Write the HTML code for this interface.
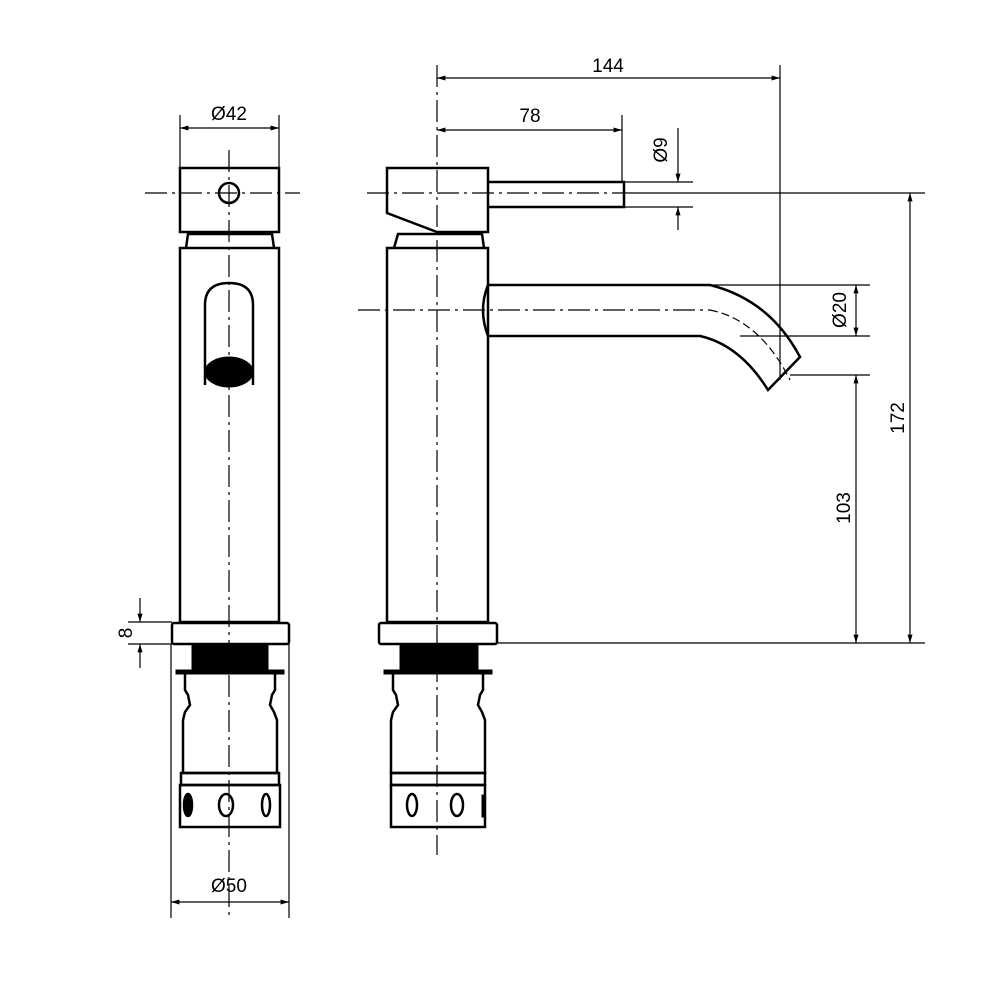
<!DOCTYPE html>
<html><head><style>html,body{margin:0;padding:0;background:#fff}svg{display:block}</style></head>
<body>
<svg width="1000" height="1000" viewBox="0 0 1000 1000" xmlns="http://www.w3.org/2000/svg" font-family="Liberation Sans, sans-serif">
<defs>
<marker id="a" viewBox="0 0 10 10" refX="10" refY="5" markerWidth="7" markerHeight="7" orient="auto-start-reverse"><path d="M0,2 L10,5 L0,8 z" fill="#000"/></marker>
</defs>
<g stroke="#000" fill="none">
<!-- center lines -->
<g stroke-width="1.2" stroke-dasharray="22,5,3,5">
<line x1="229" y1="150" x2="229" y2="920"/>
<line x1="437" y1="65" x2="437" y2="855"/>
<line x1="145" y1="193" x2="300" y2="193"/>
<line x1="367" y1="193" x2="625" y2="193"/>
<line x1="358" y1="310" x2="710" y2="310"/>
</g>
<path d="M710,310 Q760,320 790,380" stroke-width="1.2" stroke-dasharray="8,4"/>
<!-- dimension / extension lines -->
<g stroke-width="1.2">
<line x1="180" y1="115" x2="180" y2="168"/><line x1="279" y1="115" x2="279" y2="168"/>
<line x1="180" y1="128" x2="279" y2="128" marker-start="url(#a)" marker-end="url(#a)"/>
<line x1="171" y1="644" x2="171" y2="918"/><line x1="289" y1="644" x2="289" y2="918"/>
<line x1="171" y1="902" x2="289" y2="902" marker-start="url(#a)" marker-end="url(#a)"/>
<line x1="128" y1="622" x2="172" y2="622"/><line x1="128" y1="644" x2="172" y2="644"/>
<line x1="140" y1="598" x2="140" y2="622" marker-end="url(#a)"/><line x1="140" y1="668" x2="140" y2="644" marker-end="url(#a)"/>
<line x1="780" y1="65" x2="780" y2="380"/>
<line x1="437" y1="78" x2="780" y2="78" marker-start="url(#a)" marker-end="url(#a)"/>
<line x1="622" y1="115" x2="622" y2="182"/>
<line x1="437" y1="130" x2="622" y2="130" marker-start="url(#a)" marker-end="url(#a)"/>
<line x1="625" y1="182" x2="693" y2="182"/><line x1="625" y1="207" x2="693" y2="207"/>
<line x1="625" y1="193" x2="925" y2="193"/>
<line x1="678" y1="128" x2="678" y2="182" marker-end="url(#a)"/><line x1="678" y1="230" x2="678" y2="207" marker-end="url(#a)"/>
<line x1="710" y1="285" x2="870" y2="285"/><line x1="740" y1="336" x2="870" y2="336"/>
<line x1="856" y1="285" x2="856" y2="336" marker-start="url(#a)" marker-end="url(#a)"/>
<line x1="790" y1="375" x2="870" y2="375"/>
<line x1="856" y1="375" x2="856" y2="643" marker-start="url(#a)" marker-end="url(#a)"/>
<line x1="498" y1="643" x2="925" y2="643"/>
<line x1="910" y1="193" x2="910" y2="643" marker-start="url(#a)" marker-end="url(#a)"/>
</g>
<!-- LEFT VIEW -->
<g stroke-width="2.5">
<rect x="180" y="168" width="99" height="64"/>
<circle cx="229" cy="193" r="10"/>
<path d="M186,248 L188,234 L272,234 L274,248"/>
<rect x="180" y="248" width="99" height="374"/>
<path d="M205,385 L205,305 Q205,283 229,283 Q253,283 253,305 L253,385"/>
<rect x="172" y="623" width="117" height="21" rx="2"/>
<path d="M185,673 L185,690 L188,695 L190,705 L185,712 L183,720 L183,773 L277,773 L277,720 L274,712 L270,705 L272,695 L275,690 L275,673"/>
<rect x="181" y="773" width="98" height="12"/>
<rect x="180" y="785" width="100" height="42"/>
<ellipse cx="188" cy="805" rx="4" ry="11" fill="#000"/>
<ellipse cx="226" cy="805" rx="7" ry="11"/>
<ellipse cx="266" cy="805" rx="4" ry="11"/>
</g>
<ellipse cx="229" cy="372" rx="24" ry="15" fill="#000" stroke-width="1"/>
<rect x="192" y="644" width="76" height="26" fill="#000"/>
<rect x="176" y="670" width="108" height="4" fill="#000"/>
<!-- RIGHT VIEW -->
<g stroke-width="2.5">
<path d="M387,168 L488,168 L488,232 L437,232 L387,213 Z"/>
<path d="M488,182 L624,182 L624,207 L488,207"/>
<path d="M394,248 L398,234 L482,234 L484,248"/>
<rect x="387" y="248" width="101" height="374"/>
<path d="M488,285 L710,285 Q770,300 800,357 L768,390 Q740,345 700,336 L488,336 Q478,310 488,285"/>
<rect x="379" y="623" width="118" height="21" rx="2"/>
<path d="M393,673 L393,690 L396,695 L398,705 L393,712 L391,720 L391,773 L485,773 L485,720 L482,712 L478,705 L480,695 L483,690 L483,673"/>
<rect x="391" y="773" width="94" height="12"/>
<rect x="391" y="785" width="94" height="42"/>
<ellipse cx="412" cy="805" rx="5" ry="11"/>
<ellipse cx="457" cy="805" rx="6" ry="11"/>
</g>
<rect x="400" y="644" width="78" height="26" fill="#000"/>
<rect x="384" y="670" width="108" height="4" fill="#000"/>
<rect x="482" y="795" width="3" height="22" fill="#000"/>
</g>
<g font-size="19" fill="#000" text-anchor="middle">
<text x="229" y="120">Ø42</text>
<text x="229" y="892">Ø50</text>
<text x="608" y="72">144</text>
<text x="530" y="122">78</text>
<text transform="translate(132,633) rotate(-90)">8</text>
<text transform="translate(667,150) rotate(-90)">Ø9</text>
<text transform="translate(846,310) rotate(-90)">Ø20</text>
<text transform="translate(850,508) rotate(-90)">103</text>
<text transform="translate(904,418) rotate(-90)">172</text>
</g>
</svg>
</body></html>
